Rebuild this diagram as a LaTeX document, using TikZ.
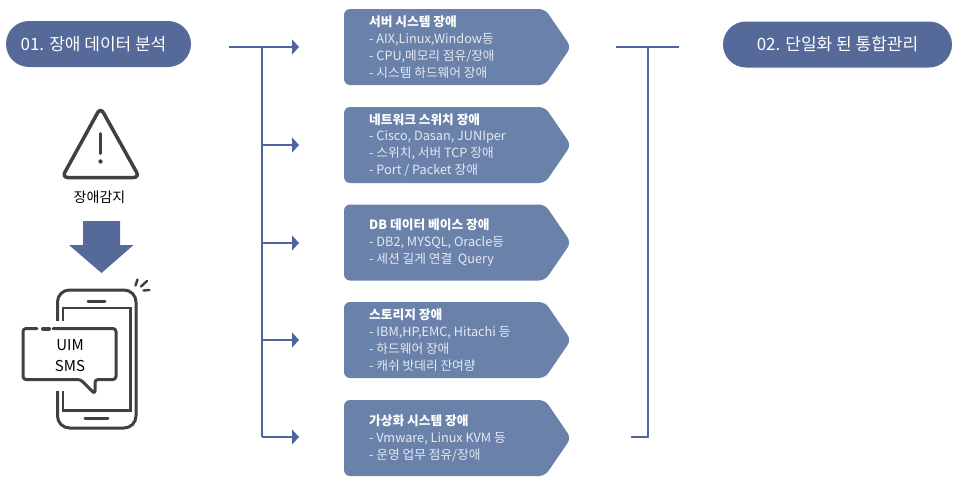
\documentclass[tikz,border=0pt]{standalone}
\usepackage{fontspec}
\newfontfamily\kr{Noto Sans CJK KR}
\usetikzlibrary{arrows.meta}
\definecolor{pillc}{HTML}{556A99}
\definecolor{boxc}{HTML}{6A82AA}
\definecolor{linec}{HTML}{5066A0}
\definecolor{iconc}{HTML}{404040}
\definecolor{subc}{HTML}{E4E9F1}
\tikzset{
  pill/.style={fill=pillc, rounded corners=23pt, minimum height=46pt, text=white,
    font=\kr\fontsize{17}{20}\selectfont, inner sep=0pt},
  boxshape/.style={fill=boxc, rounded corners=6pt},
  boxtext/.style={anchor=west, align=left, text=subc, inner sep=0pt,
    font=\kr\fontsize{12.7}{16.8}\selectfont},
  conn/.style={draw=linec, line width=1.4pt},
  connarrow/.style={conn, -{Triangle[length=7pt,width=15pt]}},
  icon/.style={draw=iconc, line width=3pt, line cap=round, line join=round},
  icontext/.style={text=black, inner sep=0pt, font=\kr\fontsize{14}{16}\selectfont},
}
\newcommand\failshape[1]{%
  \fill[boxshape] (344,#1-38) -- (545,#1-38) -- (571,#1) -- (545,#1+38) -- (344,#1+38) -- cycle;}
\begin{document}
\begin{tikzpicture}[x=1pt,y=-1pt]
\useasboundingbox (0,0) rectangle (962,490);
\fill[white] (0,0) rectangle (962,490);

% pills
\node[pill, minimum width=185pt] (p1) at (98.5,44) {\hspace*{-10pt}01. 장애 데이터 분석};
\node[pill, minimum width=229pt] (p2) at (837.5,44.5) {02. 단일화 된 통합관리};

% boxes
\failshape{47}
\failshape{145}
\failshape{242.5}
\failshape{340}
\failshape{438}
\node[boxtext] (t1) at (369,47) {\textcolor{white}{\bfseries 서버 시스템 장애}\\- AIX,Linux,Window등\\- CPU,메모리 점유/장애\\- 시스템 하드웨어 장애};
\node[boxtext] (t2) at (369,145) {\textcolor{white}{\bfseries 네트워크 스위치 장애}\\- Cisco, Dasan, JUNIper\\- 스위치, 서버 TCP 장애\\- Port / Packet 장애};
\node[boxtext] (t3) at (369,242.5) {\textcolor{white}{\bfseries DB 데이터 베이스 장애}\\- DB2, MYSQL, Oracle등\\- 세션 길게 연결~ Query};
\node[boxtext] (t4) at (369,340) {\textcolor{white}{\bfseries 스토리지 장애}\\- IBM,HP,EMC, Hitachi 등\\- 하드웨어 장애\\- 캐쉬 밧데리 잔여량};
\node[boxtext] (t5) at (369,438) {\textcolor{white}{\bfseries 가상화 시스템 장애}\\- Vmware, Linux KVM 등\\- 운영 업무 점유/장애};

% left connectors
\coordinate (lstart) at (229,47);
\coordinate (s1) at (262,47);
\coordinate (s2) at (262,145);
\coordinate (s3) at (262,243);
\coordinate (s4) at (262,340);
\coordinate (s5) at (262,437);
\coordinate (a1) at (299,47);
\coordinate (a2) at (299,145);
\coordinate (a3) at (299,243);
\coordinate (a4) at (299,340);
\coordinate (a5) at (299,437);
\draw[conn] (s1) -- (s5);
\draw[connarrow] (lstart) -- (a1);
\draw[connarrow] (s2) -- (a2);
\draw[connarrow] (s3) -- (a3);
\draw[connarrow] (s4) -- (a4);
\draw[connarrow] (s5) -- (a5);

% right connectors
\coordinate (rin) at (616,47);
\coordinate (rout) at (679,47);
\coordinate (r1) at (648,47);
\coordinate (r5) at (648,437);
\coordinate (rend) at (631,437);
\draw[conn] (rin) -- (rout);
\draw[conn] (r1) -- (r5) -- (rend);

% warning icon
\draw[icon, line width=3.5pt, rounded corners=6pt] (100.5,107.5) -- (139.5,177.5) -- (62,177.5) -- cycle;
\draw[icon] (100.5,133.5) -- (100.5,153.5);
\fill[iconc] (100.5,161.5) circle (2.2pt);
\node[icontext] (lbl) at (99.5,197) {장애감지};

% big arrow
\fill[pillc] (83,221) -- (120,221) -- (120,245) -- (133.5,245) -- (101.5,273) -- (69,245) -- (83,245) -- cycle;

% phone
\draw[icon, rounded corners=12pt] (57.5,290) rectangle (136,428);
\draw[icon, line width=2.5pt, line cap=butt, line join=miter] (63,308) rectangle (130.5,410.5);
\draw[icon] (88,301) -- (105,301);
\draw[icon] (85,418) -- (108,418);
\draw[icon, line width=2.4pt] (135.5,285.5) -- (137.5,279.5);
\draw[icon, line width=2.4pt] (141,286.5) -- (147,281);
\draw[icon, line width=2.4pt] (143.5,290.5) -- (149.5,290);
\fill[white] (50,321) rectangle (121,391);
\draw[icon, rounded corners=3pt] (53,328.5) -- (116,328.5) -- (116,379.5) -- (95,379.5) -- (95,394) -- (80.5,379.5) -- (23,379.5) -- (23,328.5) -- (37,328.5);
\draw[icon, line width=4pt] (43,328.5) -- (49,328.5);
\node[icontext, font=\kr\fontsize{15}{18}\selectfont] (uim) at (70,345) {UIM};
\node[icontext, font=\kr\fontsize{15}{18}\selectfont] (sms) at (70,366) {SMS};
\end{tikzpicture}
\end{document}
